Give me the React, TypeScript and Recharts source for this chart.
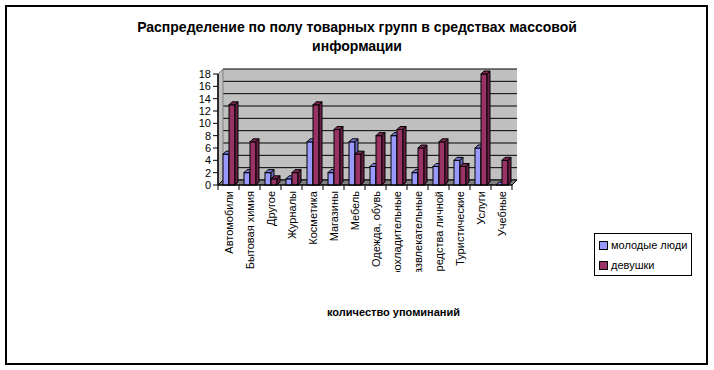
import React from "react";
import {
  BarChart,
  Bar,
  XAxis,
  YAxis,
  CartesianGrid,
  Customized,
} from "recharts";

const categories = [
  "Автомобили",
  "Бытовая химия",
  "Другое",
  "Журналы",
  "Косметика",
  "Магазины",
  "Мебель",
  "Одежда, обувь",
  "Прохладительные",
  "Развлекательные",
  "Средства личной",
  "Туристические",
  "Услуги",
  "Учебные",
];
const youngMen = [5, 2, 2, 1, 7, 2, 7, 3, 8, 2, 3, 4, 6, 0];
const girls = [13, 7, 1, 2, 13, 9, 5, 8, 9, 6, 7, 3, 18, 4];
const yTicks = [0, 2, 4, 6, 8, 10, 12, 14, 16, 18];
const seriesNames = ["молодые люди", "девушки"];

const data = categories.map((name, i) => ({
  name,
  men: youngMen[i],
  girls: girls[i],
}));

const FONT = "'Liberation Sans', Arial, sans-serif";
// plot box (front plane)
const LEFT = 218;
const TOP = 74;
const W = 294;
const H = 111;
const DEPTH = 5;
const BAND = W / categories.length;

const colors = {
  men: { front: "#9999ff", top: "#7a7ad6", side: "#6b6bc0" },
  girls: { front: "#993366", top: "#7d2853", side: "#6a2046" },
};

const Bar3D = (c: { front: string; top: string; side: string }) => (p: any) => {
  const { x, y, width, height } = p;
  const d = 3;
  return (
    <g stroke="#000" strokeWidth={1}>
      <rect x={x} y={y} width={width} height={height} fill={c.front} />
      <polygon
        points={`${x},${y} ${x + d},${y - d} ${x + width + d},${y - d} ${x + width},${y}`}
        fill={c.top}
      />
      <polygon
        points={`${x + width},${y} ${x + width + d},${y - d} ${x + width + d},${y + height - d} ${x + width},${y + height}`}
        fill={c.side}
      />
    </g>
  );
};

const Walls = () => (
  <g>
    <polygon
      points={`${LEFT},${TOP} ${LEFT + DEPTH},${TOP - DEPTH} ${LEFT + DEPTH},${TOP + H - DEPTH} ${LEFT},${TOP + H}`}
      fill="#c0c0c0"
      stroke="#808080"
    />
    <polygon
      points={`${LEFT},${TOP + H} ${LEFT + DEPTH},${TOP + H - DEPTH} ${LEFT + W + DEPTH},${TOP + H - DEPTH} ${LEFT + W},${TOP + H}`}
      fill="#808080"
      stroke="#000"
    />
    <line x1={LEFT} y1={TOP} x2={LEFT} y2={TOP + H} stroke="#000" />
  </g>
);

const XTick = (p: any) => {
  const { x, y, payload, index } = p;
  const last = index === categories.length - 1;
  return (
    <g>
      <line x1={x - BAND / 2} y1={y} x2={x - BAND / 2} y2={y + 5} stroke="#000" />
      {last && <line x1={x + BAND / 2} y1={y} x2={x + BAND / 2} y2={y + 5} stroke="#000" />}
      <svg x={x - 10} y={y} width={20} height={87} overflow="hidden">
        <text
          transform={`translate(10,6) rotate(-90)`}
          textAnchor="end"
          dominantBaseline="central"
          fontSize={11}
          fontFamily={FONT}
          fill="#000"
        >
          {payload.value}
        </text>
      </svg>
    </g>
  );
};

export default function App() {
  return (
    <div style={{ position: "absolute", left: 0, top: 0, width: 714, height: 370, background: "#fff", fontFamily: FONT }}>
      <div
        style={{
          position: "absolute",
          left: 5,
          top: 5,
          width: 703,
          height: 360,
          boxSizing: "border-box",
          border: "2px solid #000",
        }}
      />
      <div style={{ position: "absolute", left: 0, top: 18, width: 714, textAlign: "center", fontWeight: "bold", fontSize: 14, lineHeight: "19px" }}>
        Распределение по полу товарных групп в средствах массовой
        <br />
        информации
      </div>
      <BarChart
        width={714}
        height={370}
        data={data}
        margin={{ top: TOP, right: 714 - LEFT - W, bottom: 100, left: 0 }}
        barSize={6}
        barGap={0}
      >
        <CartesianGrid
          x={LEFT + DEPTH}
          y={TOP - DEPTH}
          width={W}
          height={H}
          fill="#c0c0c0"
          fillOpacity={1}
          vertical={false}
          stroke="#000"
          horizontal={(l: any) => (
            <polyline
              key={l.key}
              points={`${l.x1 - DEPTH},${l.y1} ${l.x1},${l.y1 - DEPTH} ${l.x2},${l.y1 - DEPTH}`}
              fill="none"
              stroke="#000"
              strokeWidth={1}
            />
          )}
        />
        <Customized component={<Walls />} />
        <XAxis
          dataKey="name"
          height={85}
          interval={0}
          tickLine={false}
          tickSize={0}
          tickMargin={0}
          axisLine={{ stroke: "#000" }}
          tick={<XTick />}
        />
        <YAxis
          width={LEFT}
          domain={[0, 18]}
          ticks={yTicks}
          interval={0}
          tickSize={5}
          tickMargin={2}
          axisLine={{ stroke: "#000" }}
          tickLine={{ stroke: "#000" }}
          tick={{ fill: "#000", fontSize: 11, fontFamily: FONT }}
        />
        <Bar dataKey="men" name={seriesNames[0]} isAnimationActive={false} shape={Bar3D(colors.men)} />
        <Bar dataKey="girls" name={seriesNames[1]} isAnimationActive={false} shape={Bar3D(colors.girls)} />
      </BarChart>
      <div
        style={{
          position: "absolute",
          left: 594,
          top: 233,
          width: 98,
          height: 43,
          boxSizing: "border-box",
          border: "1px solid #000",
          fontSize: 11,
        }}
      >
        {seriesNames.map((n, i) => (
          <div key={n} style={{ position: "absolute", left: 4, top: 5 + i * 20, display: "flex", alignItems: "center", whiteSpace: "nowrap" }}>
            <span
              style={{
                display: "inline-block",
                width: 7,
                height: 7,
                border: "1px solid #000",
                background: i === 0 ? colors.men.front : colors.girls.front,
                marginRight: 3,
              }}
            />
            {n}
          </div>
        ))}
      </div>
      <div style={{ position: "absolute", left: 327, top: 306, fontWeight: "bold", fontSize: 11, whiteSpace: "nowrap" }}>
        количество упоминаний
      </div>
    </div>
  );
}
